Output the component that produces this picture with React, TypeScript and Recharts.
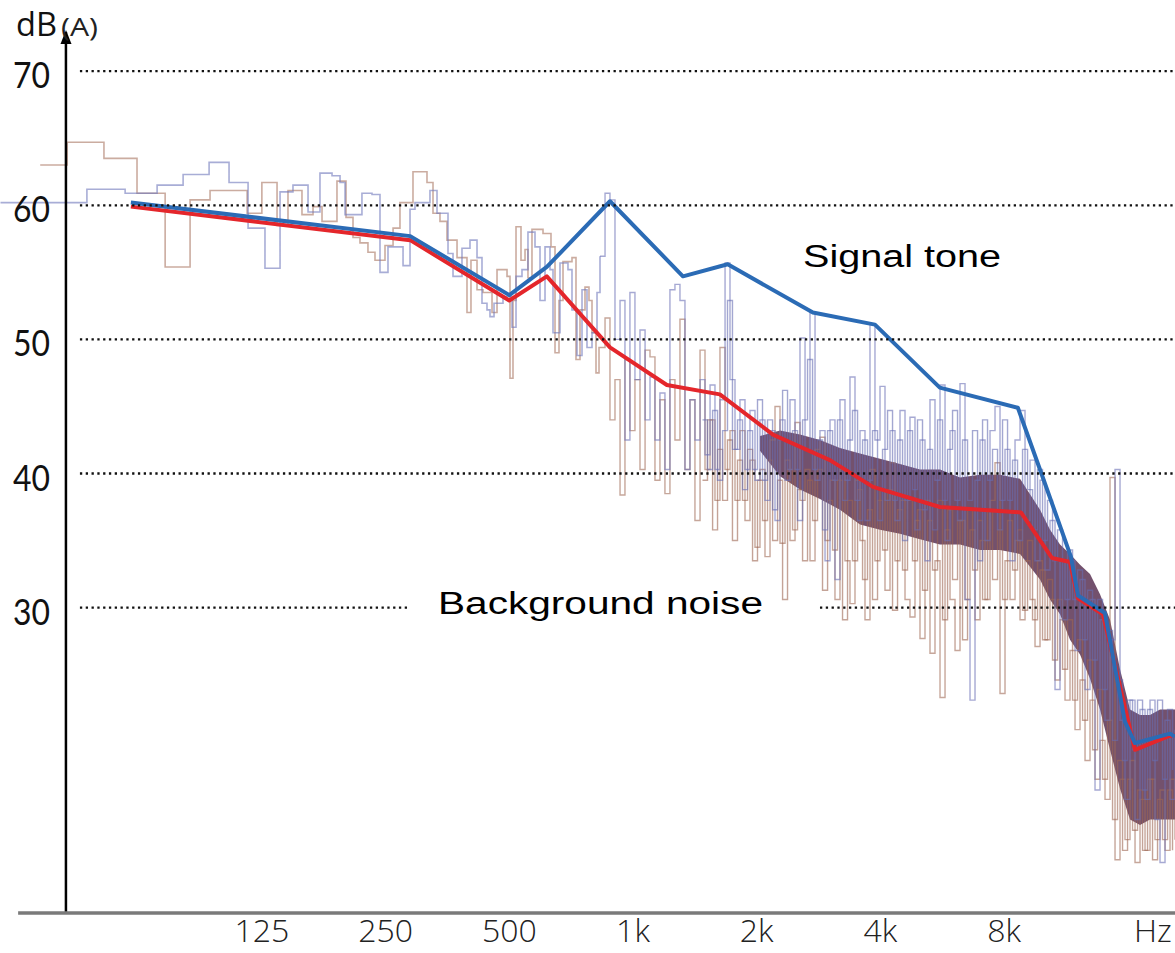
import React from "react";
import {
  ComposedChart,
  Line,
  Area,
  XAxis,
  YAxis,
  ReferenceLine,
} from "recharts";

const FREQ_TICKS = [125, 250, 500, 1000, 2000, 4000, 8000, 18420];
const FREQ_LABELS = ["125", "250", "500", "1k", "2k", "4k", "8k", "Hz"];
const DB_TICKS = [30, 40, 50, 60, 70];

// band levels of the two measurements (thick lines)
const signalToneHz = [60, 287, 500, 617, 879, 1323, 1700, 2740, 3880, 5580, 8640, 9780, 11630, 12100, 14070, 15740, 16650, 20260, 20840];
const signalToneDb = [60.2, 57.7, 53.3, 55.4, 60.3, 54.7, 55.6, 52.0, 51.1, 46.4, 44.9, 40.3, 33.8, 30.9, 29.6, 21.5, 19.9, 20.6, 20.4];
const backgroundHz = [60, 287, 500, 617, 879, 1209, 1627, 2190, 3014, 3836, 5583, 8790, 10457, 11568, 12098, 13917, 16650, 20031, 20840];
const backgroundDb = [59.9, 57.4, 52.9, 54.7, 49.4, 46.6, 45.9, 42.9, 41.0, 39.0, 37.5, 37.1, 33.7, 33.4, 30.7, 29.5, 19.4, 20.4, 20.5];

// narrow-band spectrum with the tone, [Hz, dB]
const signalSpectrumLow: [number, number][] = [
  [28.9, 60.2], [46.9, 61.2], [58.1, 60.9], [69.5, 61.5], [80.4, 62.3], [93.0, 63.2], [104, 61.7],
  [115.7, 58.3], [127.2, 55.3], [138.4, 61.0], [148.8, 61.5], [161.9, 59.5], [173.1, 62.4], [185.2, 62.2],
  [193.7, 61.7], [199.2, 59.3], [219, 60.9], [231.7, 60.8], [242.3, 55.0], [253.4, 56.9], [275.7, 55.5],
  [286.7, 59.7], [294.8, 60.2], [320.6, 61.1], [333.5, 59.4], [354.7, 56.4], [364.8, 54.7], [383.6, 56.8],
  [401.2, 57.4], [417.3, 56.1], [429.1, 52.7], [441.3, 52.2], [448.8, 51.7], [459, 52.7], [482.7, 53.2],
  [507.7, 50.9], [519.2, 54.7], [536.9, 55.2], [555.2, 58.0], [577.5, 56.9], [593.9, 52.9], [610.8, 56.9],
  [628.1, 55.2], [638.8, 50.5], [664.3, 55.7], [694.7, 55.2], [710.5, 52.2], [730.8, 48.8], [751.5, 53.7],
  [772.8, 49.4], [794.8, 50.5], [817.4, 53.5], [831.2, 56.2],
];
const signalSpectrumHigh: [number, number][] = [
  [831, 56.2], [855, 60.9], [879, 60.4], [904, 50.0], [930, 52.9], [956, 42.5], [983, 53.5], [1011, 47.0],
  [1040, 50.7], [1070, 44.0], [1100, 47.2], [1131, 42.5], [1163, 46.0], [1196, 40.3], [1230, 53.7],
  [1265, 54.1], [1301, 52.9], [1338, 40.3], [1376, 45.5], [1415, 42.5], [1456, 47.0], [1497, 41.4],
  [1540, 46.6], [1583, 40.3], [1628, 45.5], [1675, 55.7], [1722, 47.0], [1771, 41.8], [1821, 45.5],
  [1873, 40.3], [1926, 44.7], [1981, 39.5], [2037, 44.0], [2095, 38.0], [2155, 43.2], [2216, 36.5],
  [2279, 44.0], [2344, 39.5], [2410, 45.5], [2479, 40.3], [2549, 50.1], [2622, 41.8], [2696, 52.0],
  [2773, 39.5], [2851, 43.2], [2933, 33.5], [3016, 44.0], [3101, 32.1], [3189, 45.5], [3280, 39.5],
  [3373, 47.2], [3469, 38.0], [3568, 43.2], [3669, 36.5], [3773, 51.1], [3880, 42.5], [3991, 46.5],
  [4104, 38.0], [4221, 43.2], [4341, 36.5], [4464, 44.7], [4591, 38.0], [4721, 44.2], [4855, 35.8],
  [4993, 42.5], [5135, 33.5], [5281, 45.5], [5431, 39.5], [5586, 46.6], [5745, 35.0], [5908, 43.2],
  [6076, 38.0], [6248, 46.7], [6426, 30.6], [6608, 23.1], [6796, 39.5], [6989, 42.5], [7188, 35.0],
  [7392, 43.2], [7602, 45.0], [7818, 38.0], [8040, 41.8], [8269, 33.5], [8504, 42.5], [8745, 44.7],
  [8994, 36.5], [9249, 41.0], [9512, 33.5], [9782, 39.5], [10060, 32.8], [10346, 36.5], [10640, 23.9],
  [10942, 33.5], [11253, 30.6], [11573, 33.5], [11902, 26.8], [12240, 32.1], [12588, 23.9], [12945, 30.6],
  [13313, 16.4], [13691, 29.1], [14080, 21.6], [14480, 27.6], [14892, 40.3], [15315, 21.6], [15750, 15.7],
  [16197, 23.1], [16658, 14.2], [17131, 22.4], [17618, 15.7], [18118, 23.1], [18633, 14.2], [19162, 11.0],
  [19707, 21.6], [20267, 15.7], [20840, 20.9],
];

// narrow-band spectrum of the background, [Hz, dB]
const noiseSpectrumLow: [number, number][] = [
  [36.1, 63.0], [42.0, 64.7], [51.6, 63.5], [62.1, 60.9], [72.7, 55.4], [83.6, 60.4], [93.5, 61.1],
  [115.1, 59.4], [125, 61.7], [136.1, 58.5], [144.7, 61.1], [156.5, 59.3], [166.5, 59.9], [175.1, 58.8],
  [190.4, 61.8], [200.3, 59.1], [208.3, 57.6], [216.6, 57.2], [226.5, 56.5], [235.6, 55.9], [249.2, 57.0],
  [260.7, 58.3], [271, 60.2], [291.5, 62.5], [315.3, 61.7], [326.1, 59.4], [339.1, 58.8], [352.7, 57.4],
  [373.1, 56.1], [394.5, 52.0], [403.4, 55.9], [417.3, 53.7], [431.5, 53.5], [453.9, 52.0], [466.8, 55.2],
  [493.7, 54.7], [502, 47.1], [510.5, 52.9], [519.2, 58.4], [533.9, 55.9], [546.1, 56.7], [555.2, 54.6],
  [567.8, 58.2], [604, 57.9], [631.6, 56.9], [646, 49.0], [660.6, 52.9], [675.6, 55.8], [710.5, 56.1],
  [726.6, 48.5], [743.1, 52.2], [764.2, 53.9], [781.5, 52.9], [794.8, 50.5], [812.8, 47.5], [826.6, 49.4],
  [831.2, 49.4],
];
const noiseSpectrumHigh: [number, number][] = [
  [831, 49.4], [855, 51.6], [879, 44.0], [904, 47.0], [930, 38.4], [956, 48.5], [983, 43.2], [1011, 47.0],
  [1040, 40.3], [1070, 49.2], [1100, 48.7], [1131, 39.5], [1163, 45.5], [1196, 38.5], [1230, 47.0],
  [1265, 42.5], [1301, 51.5], [1338, 40.3], [1376, 45.5], [1415, 36.5], [1456, 49.2], [1497, 40.3],
  [1540, 44.0], [1583, 38.0], [1628, 49.4], [1675, 40.3], [1722, 43.2], [1771, 38.0], [1821, 43.2],
  [1873, 36.5], [1926, 41.0], [1981, 34.5], [2037, 40.3], [2095, 33.8], [2155, 42.5], [2216, 45.0],
  [2279, 34.8], [2344, 41.0], [2410, 35.0], [2479, 43.8], [2549, 38.0], [2622, 40.3], [2696, 33.5],
  [2773, 41.8], [2851, 42.7], [2933, 35.0], [3016, 39.5], [3101, 30.6], [3189, 40.3], [3280, 33.5],
  [3373, 30.3], [3469, 39.5], [3568, 35.0], [3669, 29.1], [3773, 40.3], [3880, 33.5], [3991, 38.8],
  [4104, 31.3], [4221, 40.8], [4341, 33.5], [4464, 38.0], [4591, 30.6], [4721, 29.3], [4855, 36.5],
  [4993, 27.7], [5135, 38.0], [5281, 26.6], [5431, 33.5], [5586, 23.3], [5745, 35.8], [5908, 30.6],
  [6076, 26.8], [6248, 36.5], [6426, 30.6], [6608, 35.8], [6796, 29.1], [6989, 35.0], [7188, 30.6],
  [7392, 38.0], [7602, 40.8], [7818, 23.6], [8040, 33.5], [8269, 30.6], [8504, 35.0], [8745, 29.1],
  [8994, 33.5], [9249, 30.6], [9512, 27.1], [9782, 32.8], [10060, 27.6], [10346, 30.6], [10640, 24.6],
  [10942, 29.1], [11253, 23.1], [11573, 26.8], [11902, 20.9], [12240, 24.6], [12588, 18.6], [12945, 23.1],
  [13313, 17.2], [13691, 20.1], [14080, 15.7], [14480, 39.7], [14892, 11.2], [15315, 17.2], [15750, 12.7],
  [16197, 18.6], [16658, 11.0], [17131, 15.7], [17618, 11.9], [18118, 17.2], [18633, 12.7], [19162, 16.4],
  [19707, 11.9], [20267, 17.2], [20840, 12.7],
];

// in-between bins of both spectra above 1.4 kHz
const fineBinHz = [
  1476, 1518, 1562, 1606, 1652, 1698, 1746, 1796, 1847, 1900,
  1954, 2009, 2066, 2125, 2186, 2248, 2312, 2377, 2445, 2514,
  2586, 2659, 2735, 2812, 2892, 2975, 3059, 3145, 3235, 3327,
  3421, 3519, 3619, 3721, 3827, 3936, 4048, 4163, 4281, 4403,
  4528, 4656, 4788, 4924, 5064, 5208, 5356, 5509, 5666, 5827,
  5992, 6162, 6337, 6517, 6702, 6893, 7089, 7290, 7497, 7710,
  7929, 8155, 8387, 8625, 8870, 9122, 9381, 9647, 9921, 10203,
  10493, 10791, 11098, 11413, 11738, 12071, 12414, 12767, 13129, 13502,
  13886, 14280, 14686, 15104, 15533, 15974, 16428, 16895, 17375, 17868,
  18376, 18898, 19435, 19987, 20554,
];
const signalFineDb = [
  44.0, 40.3, 44.7, 39.5, 43.2, 52.9, 41.8, 44.0, 38.8, 43.2,
  40.3, 45.5, 39.5, 44.0, 37.3, 42.5, 46.2, 40.3, 43.2, 36.5,
  44.0, 48.5, 40.3, 42.5, 35.8, 43.2, 39.5, 44.0, 38.0, 42.5,
  44.7, 36.5, 42.5, 39.5, 43.2, 36.5, 41.8, 44.7, 38.0, 42.5,
  35.0, 43.2, 38.8, 44.0, 37.3, 41.8, 35.8, 44.0, 38.0, 41.8,
  44.7, 36.5, 42.5, 38.0, 43.2, 33.5, 44.0, 39.5, 41.8, 35.8,
  44.0, 38.0, 41.0, 35.0, 41.8, 38.8, 35.8, 40.3, 35.0, 38.0,
  33.5, 35.8, 29.1, 34.3, 30.6, 32.8, 27.6, 31.3, 26.1, 30.6,
  23.9, 28.3, 20.1, 24.6, 18.6, 23.1, 19.4, 23.1, 16.4, 22.4,
  18.6, 23.1, 17.2, 22.4, 17.9,
];
const noiseFineDb = [
  39.5, 44.0, 35.8, 41.8, 38.0, 42.5, 35.0, 41.0, 38.0, 41.8,
  33.5, 39.5, 36.5, 41.0, 35.0, 39.5, 30.6, 40.3, 35.8, 38.8,
  33.5, 39.5, 36.5, 40.3, 31.3, 38.0, 34.3, 39.5, 29.1, 38.0,
  33.5, 38.8, 32.1, 37.3, 30.6, 38.0, 34.3, 38.8, 29.8, 37.3,
  32.8, 38.0, 33.5, 37.3, 31.3, 36.5, 32.8, 38.0, 29.1, 37.3,
  32.1, 36.5, 27.6, 37.3, 32.8, 36.5, 30.6, 37.3, 32.1, 35.8,
  30.6, 36.5, 32.8, 35.8, 29.8, 35.0, 29.1, 33.5, 27.6, 32.1,
  26.1, 30.6, 25.4, 29.1, 23.1, 27.6, 21.6, 26.1, 19.4, 23.9,
  17.2, 21.6, 14.2, 18.6, 11.9, 17.2, 13.4, 16.4, 11.9, 17.2,
  11.2, 15.7, 12.7, 16.4, 11.9,
];

// dense overlap of both spectra at high frequencies
const coreBandHz = [2037, 2279, 2549, 2851, 3189, 3568, 3991, 4464, 4993, 5586, 6248, 6989, 7818, 8745, 9782, 10346, 10942, 11573, 12240, 12945, 13691, 14480, 15315, 16197, 17131, 18118, 19162, 20840];
const coreBandTop = [42.8, 43.2, 42.9, 42.5, 41.9, 41.5, 41.1, 40.7, 40.3, 40.3, 39.7, 39.9, 39.9, 39.6, 37.3, 35.8, 34.7, 34.0, 33.2, 32.5, 31.0, 29.1, 25.4, 22.4, 22.0, 22.0, 22.4, 22.4];
const coreBandBottom = [41.7, 39.8, 38.8, 38.1, 37.3, 36.2, 35.8, 35.5, 35.1, 34.7, 34.7, 34.3, 34.3, 34.0, 32.1, 30.6, 29.5, 27.6, 26.5, 24.7, 22.4, 19.4, 16.5, 14.2, 13.8, 14.2, 14.2, 14.2];

const toPoints = (hz: number[], db: number[]) => hz.map((f, i) => ({ f, db: db[i] }));
const pairPoints = (arr: [number, number][]) => arr.map(([f, db]) => ({ f, db }));

const signalTone = toPoints(signalToneHz, signalToneDb);
const background = toPoints(backgroundHz, backgroundDb);
const signalFine = toPoints(fineBinHz, signalFineDb);
const noiseFine = toPoints(fineBinHz, noiseFineDb);
const coreBand = coreBandHz.map((f, i) => ({ f, band: [coreBandBottom[i], coreBandTop[i]] }));

const X_MIN = 28.82;
const X_MAX = 20840;
const Y_MIN = 7.23;
const Y_MAX = 72.92;

const XTick = (props: any) => {
  const { x, payload } = props;
  const label = FREQ_LABELS[FREQ_TICKS.indexOf(payload.value)];
  return (
    <text x={x} y={942} textAnchor="middle" fontSize={32} fontWeight={300}
      fontFamily="'Open Sans', sans-serif" fill="#222">
      {label}
    </text>
  );
};

const YTick = (props: any) => {
  const { y, payload } = props;
  return (
    <text x={50} y={y + 17} textAnchor="end" fontSize={36}
      fontFamily="Lato, sans-serif" fill="#111" textLength={37} lengthAdjust="spacingAndGlyphs">
      {payload.value}
    </text>
  );
};

const gridSegments = (v: number) =>
  v === 30
    ? [[45.1, 286.7], [2851, X_MAX]]
    : [[45.1, X_MAX]];

const thin = { dot: false, isAnimationActive: false } as const;

export default function App() {
  return (
    <div style={{ position: "absolute", left: 0, top: 0, width: 1175, height: 953, background: "#fff" }}>
      <ComposedChart width={1175} height={953} margin={{ top: 32, right: 0, bottom: 0, left: -1 }}>
        <XAxis dataKey="f" type="number" scale="log" domain={[X_MIN, X_MAX]} allowDataOverflow
          ticks={FREQ_TICKS} interval={0} tick={XTick} axisLine={false} tickLine={false} height={40} />
        <YAxis type="number" domain={[Y_MIN, Y_MAX]} allowDataOverflow ticks={DB_TICKS} interval={0}
          width={1} tick={YTick} axisLine={false} tickLine={false} />

        <Line {...thin} data={pairPoints(noiseSpectrumLow)} dataKey="db" type="stepAfter" stroke="#a87560"
          strokeOpacity={0.6} strokeWidth={1.6} />
        <Line {...thin} data={pairPoints(signalSpectrumLow)} dataKey="db" type="stepAfter" stroke="#6e76bb"
          strokeOpacity={0.6} strokeWidth={1.6} />
        <Line {...thin} data={pairPoints(noiseSpectrumHigh)} dataKey="db" type="stepAfter" stroke="#a06a56"
          strokeOpacity={0.6} strokeWidth={1.4} />
        <Line {...thin} data={noiseFine} dataKey="db" type="stepAfter" stroke="#9c6652"
          strokeOpacity={0.6} strokeWidth={1.4} />
        <Line {...thin} data={pairPoints(signalSpectrumHigh)} dataKey="db" type="stepAfter" stroke="#6a70b6"
          strokeOpacity={0.6} strokeWidth={1.4} />
        <Line {...thin} data={signalFine} dataKey="db" type="stepAfter" stroke="#666cb2"
          strokeOpacity={0.6} strokeWidth={1.4} />

        <Area data={coreBand} dataKey="band" type="linear" fill="#5a3354" fillOpacity={0.85}
          stroke="none" isAnimationActive={false} />

        <Line {...thin} data={background} dataKey="db" type="linear" stroke="#e4262b" strokeWidth={4}
          strokeLinejoin="round" />
        <Line {...thin} data={signalTone} dataKey="db" type="linear" stroke="#2b6bb5" strokeWidth={4}
          strokeLinejoin="round" />

        {DB_TICKS.map((v) =>
          gridSegments(v).map(([a, b], i) => (
            <ReferenceLine key={`g${v}-${i}`} segment={[{ x: a, y: v }, { x: b, y: v }]}
              stroke="#111" strokeWidth={2.3} strokeDasharray="2.3 3.5" ifOverflow="visible" />
          ))
        )}
        <ReferenceLine x={41.7} stroke="#000" strokeWidth={2.5} ifOverflow="visible" />
        <ReferenceLine segment={[{ x: 31.9, y: Y_MIN }, { x: X_MAX, y: Y_MIN }]}
          stroke="#7a7a7a" strokeWidth={3.5} ifOverflow="visible" />
      </ComposedChart>

      <svg width={1175} height={953} style={{ position: "absolute", left: 0, top: 0, pointerEvents: "none" }}>
        <polygon points="66,30 60.5,44 71.5,44" fill="#000" />
        <text x={16} y={36} fontSize={32} fontFamily="'Open Sans', sans-serif" fill="#111"
          textLength={41} lengthAdjust="spacingAndGlyphs">dB</text>
        <text x={61} y={36} fontSize={25} fontFamily="'Open Sans', sans-serif" fill="#222"
          textLength={37} lengthAdjust="spacingAndGlyphs">(A)</text>
        <text x={803} y={267} fontSize={31} fontFamily="'Liberation Sans', Arial, sans-serif" fill="#000"
          textLength={198} lengthAdjust="spacingAndGlyphs">Signal tone</text>
        <text x={438} y={614} fontSize={31} fontFamily="'Liberation Sans', Arial, sans-serif" fill="#000"
          textLength={325} lengthAdjust="spacingAndGlyphs">Background noise</text>
      </svg>
    </div>
  );
}
